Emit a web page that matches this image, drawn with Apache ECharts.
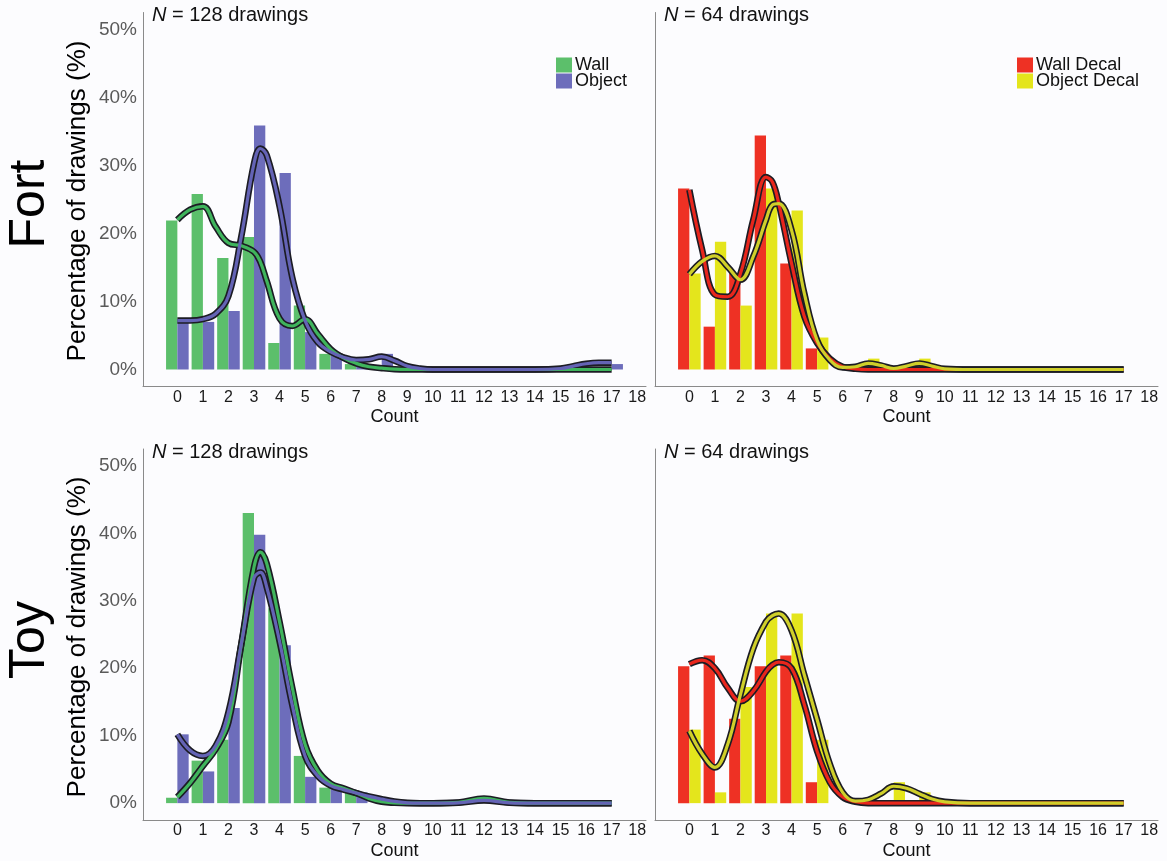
<!DOCTYPE html>
<html>
<head>
<meta charset="utf-8">
<script src="https://cdn.jsdelivr.net/npm/echarts@6/dist/echarts.min.js"></script>
<style>
html,body{margin:0;padding:0;background:#fcfcfe;}
#chart{width:1167px;height:861px;}
</style>
</head>
<body>
<div id="chart"></div>
<script>
// ---- Data ----
const counts = [0,1,2,3,4,5,6,7,8,9,10,11,12,13,14,15,16,17];
const xTickLabels = [0,1,2,3,4,5,6,7,8,9,10,11,12,13,14,15,16,17,18];
const yTickLabels = [0,10,20,30,40,50];

// bar heights (% of drawings) for counts 0..17
const fortWall        = [21.9,25.8,16.4,19.5,3.9,9.4,2.3,0.8,0,0,0,0,0,0,0,0,0,0];
const fortObject      = [7.0,7.0,8.6,35.9,28.9,5.5,2.3,0.8,2.3,0,0,0,0,0,0,0,0,0.8];
const fortWallDecal   = [26.6,6.3,14.1,34.4,15.6,3.1,0,0,0,0,0,0,0,0,0,0,0,0];
const fortObjectDecal = [14.1,18.8,9.4,26.6,23.4,4.7,0,1.6,0,1.6,0,0,0,0,0,0,0,0];
const toyWall         = [0.8,6.3,9.4,43.0,28.9,7.0,2.3,1.6,0,0,0,0,0.8,0,0,0,0,0];
const toyObject       = [10.2,4.7,14.1,39.8,23.4,3.9,2.3,1.6,0,0,0,0,0,0,0,0,0,0];
const toyWallDecal    = [20.3,21.9,12.5,20.3,21.9,3.1,0,0,0,0,0,0,0,0,0,0,0,0];
const toyObjectDecal  = [10.9,1.6,17.2,28.1,28.1,9.4,0,0,3.1,1.6,0,0,0,0,0,0,0,0];

// smoothed density curves, read at these x positions
const curveX = [0,0.5,1,1.5,2,2.5,3,3.25,3.5,4,4.5,5,5.5,6,6.5,7,7.5,8,8.5,9,9.5,10,11,12,13,14,15,15.5,16,16.5,17];
const fortWallCurve        = [22.0,23.5,24.0,21.0,18.6,18.2,17.3,15.8,13.0,7.5,6.4,7.4,5.2,3.0,1.7,0.9,0.4,0.2,0.05,0,0,0,0,0,0,0,0,0,0,0,0];
const fortObjectCurve      = [7.2,7.2,7.4,8.2,10.8,19.5,30.3,32.5,31.5,24.0,13.5,7.2,4.0,2.6,1.8,1.4,1.5,1.9,1.3,0.5,0.15,0,0,0,0,0,0.15,0.5,0.85,1.0,1.0];
const fortWallDecalCurve   = [26.4,17.6,11.0,10.7,14.1,22.0,28.3,27.6,24.4,15.6,7.8,3.9,1.6,0.4,0.1,0,0,0,0,0,0,0,0,0,0,0,0,0,0,0,0];
const fortObjectDecalCurve = [14.0,15.9,16.7,15.1,13.2,16.6,22.0,24.2,24.4,20.5,11.2,4.3,1.4,0.3,0.4,0.9,0.6,0.15,0.5,0.9,0.5,0.1,0,0,0,0,0,0,0,0,0];
const toyWallCurve         = [0.9,3.0,5.5,8.0,12.0,23.5,35.0,37.2,35.5,26.9,17.1,8.7,4.8,2.9,2.2,1.5,0.7,0.2,0.05,0,0,0,0.1,0.7,0.1,0,0,0,0,0,0];
const toyObjectCurve       = [10.2,7.8,7.0,8.5,13.5,23.5,33.4,34.2,32.0,24.0,14.5,7.0,4.0,2.6,2.0,1.5,1.0,0.6,0.25,0.05,0,0,0.05,0.4,0.05,0,0,0,0,0,0];
const toyWallDecalCurve    = [20.6,21.2,20.0,17.1,15.1,16.6,19.5,20.5,20.9,20.0,14.6,7.7,3.1,0.9,0.2,0,0,0,0,0,0,0,0,0,0,0,0,0,0,0,0];
const toyObjectDecalCurve  = [10.7,7.3,5.3,8.7,16.1,22.9,26.9,27.8,28.1,25.6,19.0,12.4,5.8,1.6,0.3,0.5,1.4,2.5,2.2,1.4,0.6,0.2,0,0,0,0,0,0,0,0,0];

const panelTitles = ['128','64','128','64'];
const nameA = ['Wall','Wall Decal','Wall','Wall Decal'];
const nameB = ['Object','Object Decal','Object','Object Decal'];

// ---- Styles ----
const GREEN = '#5cbf6b', PURPLE = '#6d6dbb', RED = '#ee3124', YELLOW = '#e4e51c';
const GREEN_L = '#3fb45c', PURPLE_L = '#6463b5', RED_L = '#e8261c', YELLOW_L = '#cfcf2a';
const FONT = 'Liberation Sans, Arial, sans-serif';

const panels = [
  {bars:[fortWall,fortObject], curves:[fortWallCurve,fortObjectCurve], col:[GREEN,PURPLE], lcol:[GREEN_L,PURPLE_L]},
  {bars:[fortWallDecal,fortObjectDecal], curves:[fortWallDecalCurve,fortObjectDecalCurve], col:[RED,YELLOW], lcol:[RED_L,YELLOW_L]},
  {bars:[toyWall,toyObject], curves:[toyWallCurve,toyObjectCurve], col:[GREEN,PURPLE], lcol:[GREEN_L,PURPLE_L]},
  {bars:[toyWallDecal,toyObjectDecal], curves:[toyWallDecalCurve,toyObjectDecalCurve], col:[RED,YELLOW], lcol:[RED_L,YELLOW_L]}
];

const gridPos = [
  {left:143, top:12.5, width:503, height:374},
  {left:655, top:12.5, width:503, height:374},
  {left:143, top:449, width:503, height:374},
  {left:655, top:449, width:503, height:374}
];

const grid = gridPos.map(g => Object.assign({containLabel:false}, g));
const xAxis = gridPos.map((g,i) => ({
  type:'value', gridIndex:i, min:-1.345, max:18.345,
  name:'Count', nameLocation:'middle', nameGap:22,
  nameTextStyle:{fontFamily:FONT, fontSize:18, color:'#111'},
  axisLine:{show:true, onZero:false, lineStyle:{color:'#8a8a8a', width:1}},
  axisTick:{show:false},
  splitLine:{show:false},
  axisLabel:{customValues:xTickLabels, fontFamily:FONT, fontSize:16, color:'#1a1a1a', margin:3,
    formatter:v => String(v)}
}));
const yAxis = gridPos.map((g,i) => ({
  type:'value', gridIndex:i, min:-2.5, max:52.5,
  axisLine:{show:true, onZero:false, lineStyle:{color:'#8a8a8a', width:1}},
  axisTick:{show:false},
  splitLine:{show:false},
  axisLabel:{show:(i%2===0), customValues:yTickLabels, fontFamily:FONT, fontSize:19, color:'#5a5a5a', margin:6,
    formatter:v => v + '%'}
}));

const series = [];
panels.forEach((p,i) => {
  [0,1].forEach(k => {
    series.push({
      type:'bar', name:(k===0?nameA[i]:nameB[i]), xAxisIndex:i, yAxisIndex:i,
      barWidth:11.3, barGap:'0%',
      itemStyle:{color:p.col[k]},
      data:counts.map((c,j) => [c, p.bars[k][j]]).filter(d => d[1] > 0),
      z:2, silent:true
    });
  });
  [0,1].forEach(k => {
    series.push({
      type:'line', name:'outline'+i+k, xAxisIndex:i, yAxisIndex:i,
      smooth:0.4, showSymbol:false, symbol:'none',
      lineStyle:{color:'#1c1c24', width:6.5},
      data:curveX.map((x,j) => [x, p.curves[k][j]]),
      z:3, silent:true
    });
  });
  [0,1].forEach(k => {
    series.push({
      type:'line', name:'curve'+i+k, xAxisIndex:i, yAxisIndex:i,
      smooth:0.4, showSymbol:false, symbol:'none',
      lineStyle:{color:p.lcol[k], width:3.2},
      data:curveX.map((x,j) => [x, p.curves[k][j]]),
      z:4, silent:true
    });
  });
});

const graphic = [];
gridPos.forEach((g,i) => {
  graphic.push({type:'text', left:g.left+9, top:g.top-7,
    style:{rich:{n:{fontStyle:'italic', fontSize:20, fontFamily:FONT, fill:'#111'}, t:{fontSize:20, fontFamily:FONT, fill:'#111'}},
      text:'{n|N}{t| = ' + panelTitles[i] + ' drawings}', fill:'#111'}});
});
[[30,204,'Fort'],[30,640,'Toy']].forEach(a => {
  graphic.push({type:'text', x:a[0], y:a[1], rotation:Math.PI/2,
    style:{text:a[2], fontSize:50, fontFamily:FONT, fill:'#000', textAlign:'center', textVerticalAlign:'middle'}});
});
[201, 637].forEach(y => {
  graphic.push({type:'text', x:78, y:y, rotation:Math.PI/2,
    style:{text:'Percentage of drawings (%)', fontSize:26, fontFamily:FONT, fill:'#000', textAlign:'center', textVerticalAlign:'middle'}});
});

const legendCommon = {orient:'vertical', icon:'rect', itemWidth:16, itemHeight:15, itemGap:-2, padding:0,
  textStyle:{fontFamily:FONT, fontSize:18, color:'#111', padding:[0,0,0,-2]}, selectedMode:false};
const option = {
  backgroundColor:'#fcfcfe',
  animation:false,
  grid, xAxis, yAxis, series, graphic,
  legend:[
    Object.assign({data:['Wall','Object'], left:556, top:56}, legendCommon),
    Object.assign({data:['Wall Decal','Object Decal'], left:1017, top:56}, legendCommon)
  ]
};

const chart = echarts.init(document.getElementById('chart'), null, {renderer:'canvas'});
chart.setOption(option);
</script>
</body>
</html>
